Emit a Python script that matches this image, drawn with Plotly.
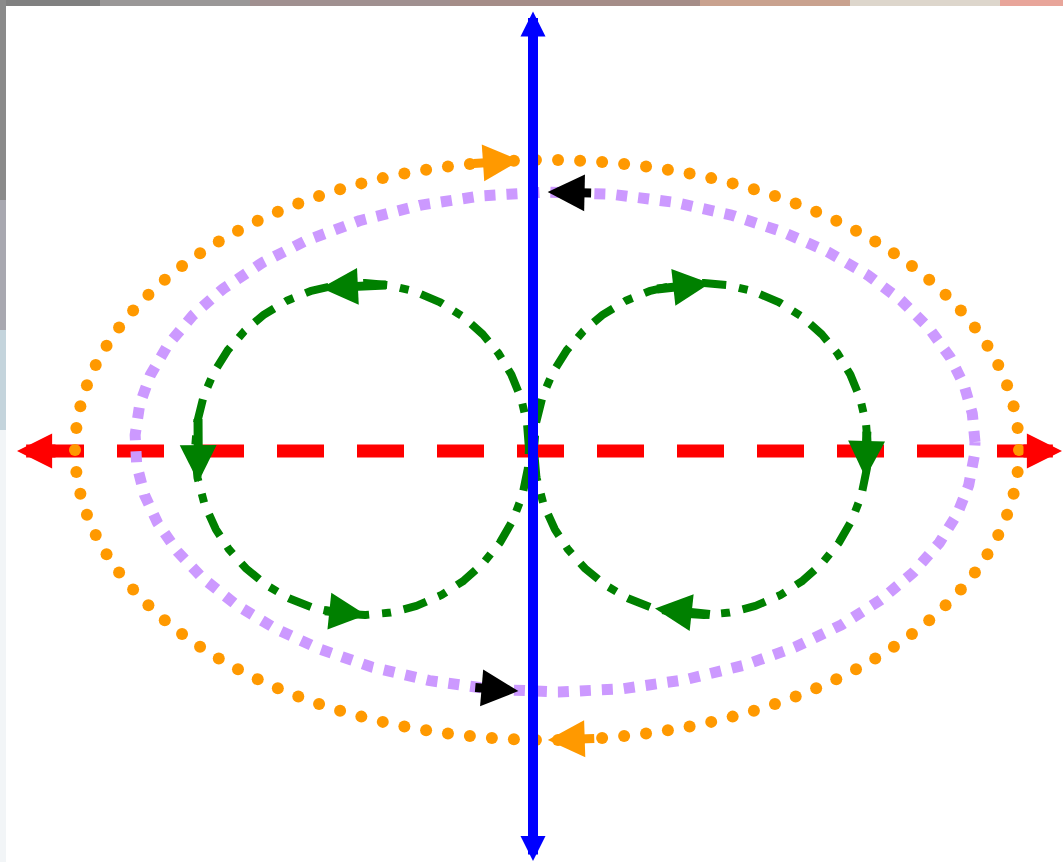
import numpy as np
import plotly.graph_objects as go

W, H = 1063, 862

# ---- curve definitions (pixel space) ----
curve_names = ["orange", "purple", "green_left", "green_right"]
center_x = [547, 555, 362, 701]
center_y = [450, 442, 449, 449]
radius_x = [472, 420, 167, 167]
radius_y = [290, 250, 166, 166]

# ---- straight axes ----
h_axis_y = 451
h_axis_x0, h_axis_x1 = 17, 1062
v_axis_x = 533
v_axis_y0, v_axis_y1 = 10, 861

# ---- direction arrows on curves: curve, tip angle (deg), sense (+1 ccw, -1 cw), length ----
arrow_curve = ["orange", "orange", "purple", "purple",
               "green_left", "green_left", "green_left",
               "green_right", "green_right", "green_right"]
arrow_angle = [93.3, 270.1, 91.0, 265.0, 104.2, 191.5, 271.4, 86.9, 350.0, 254.0]
arrow_sense = [-1, -1, 1, 1, 1, 1, 1, -1, -1, -1]
arrow_length = [48, 48, 45, 45, 67, 65, 43, 55, 48, 57]

colors = {"orange": "#FF9900", "purple": "#CC99FF", "green_left": "#008000",
          "green_right": "#008000", "red": "#FF0000", "blue": "#0000FF"}
arrow_colors = {"orange": "#FF9900", "purple": "#000000",
                "green_left": "#008000", "green_right": "#008000"}


def curve(i, t):
    return (center_x[i] + radius_x[i] * np.cos(t), center_y[i] - radius_y[i] * np.sin(t))


fig = go.Figure()

# red dashed horizontal line
fig.add_trace(go.Scatter(x=[37, 1044], y=[h_axis_y, h_axis_y], mode="lines",
                         line=dict(color=colors["red"], width=13, dash="47px,33px"),
                         hoverinfo="skip"))

tt = np.linspace(0, 2 * np.pi, 2000)
for name in ["green_left", "green_right"]:
    i = curve_names.index(name)
    x, y = curve(i, tt)
    fig.add_trace(go.Scatter(x=x, y=y, mode="lines",
                             line=dict(color=colors[name], width=8, dash="24px,13px,9px,13px"),
                             hoverinfo="skip"))

# purple square-dotted ellipse
i = curve_names.index("purple")
x, y = curve(i, tt)
fig.add_trace(go.Scatter(x=x, y=y, mode="lines",
                         line=dict(color=colors["purple"], width=11, dash="11px,11px"),
                         hoverinfo="skip"))

# orange round-dotted ellipse (dots at equal arc length)
i = curve_names.index("orange")
x, y = curve(i, tt)
seg = np.hypot(np.diff(x), np.diff(y))
cum = np.concatenate([[0], np.cumsum(seg)])
n = int(round(cum[-1] / 22))
targets = np.linspace(0, cum[-1], n, endpoint=False)
dx = np.interp(targets, cum, x)
dy = np.interp(targets, cum, y)
fig.add_trace(go.Scatter(x=dx, y=dy, mode="markers",
                         marker=dict(color=colors["orange"], size=12, line=dict(width=0)),
                         hoverinfo="skip"))

ann = []


def arrow(x, y, ax, ay, color, width, size):
    ann.append(dict(x=x, y=y, ax=ax, ay=ay, xref="x", yref="y", axref="x", ayref="y",
                    text="", showarrow=True, arrowhead=2, arrowsize=size,
                    arrowwidth=width, arrowcolor=color, standoff=0, startstandoff=0))


# red arrowheads
arrow(h_axis_x0, h_axis_y, h_axis_x0 + 40, h_axis_y, colors["red"], 13, 0.54)
arrow(h_axis_x1, h_axis_y, h_axis_x1 - 40, h_axis_y, colors["red"], 13, 0.54)

# curve arrows
for c, ang, s, L in zip(arrow_curve, arrow_angle, arrow_sense, arrow_length):
    i = curve_names.index(c)
    t = np.deg2rad(ang)
    speed = np.hypot(radius_x[i] * np.sin(t), radius_y[i] * np.cos(t))
    t_tail = t - s * L / speed
    tx, ty = curve(i, t)
    bx, by = curve(i, t_tail)
    arrow(tx, ty, bx, by, arrow_colors[c], 9, 0.82)

# blue double-headed vertical axis (on top)
ann.append(dict(x=v_axis_x, y=v_axis_y1, ax=v_axis_x, ay=v_axis_y0,
                xref="x", yref="y", axref="x", ayref="y", text="", showarrow=True,
                arrowhead=2, startarrowhead=2, arrowside="end+start",
                arrowsize=0.5, startarrowsize=0.5, arrowwidth=10,
                arrowcolor=colors["blue"], standoff=0, startstandoff=0))

# blurry photo-like border strips
shapes = []
top_cols = [(0, 100, "#808080"), (100, 250, "#9a9898"), (250, 450, "#a09090"),
            (450, 700, "#a58d88"), (700, 850, "#c9a28f"), (850, 1000, "#ddd6cc"),
            (1000, 1063, "#e8a59a")]
for a, b, col in top_cols:
    shapes.append(dict(type="rect", xref="x", yref="y", x0=a, x1=b, y0=0, y1=6,
                       fillcolor=col, line=dict(width=0), layer="below"))
left_cols = [(0, 200, "#8a8a8a"), (200, 330, "#a8a8b0"), (330, 430, "#c4d4dc"),
             (430, 862, "#f2f5f7")]
for a, b, col in left_cols:
    shapes.append(dict(type="rect", xref="x", yref="y", x0=0, x1=6, y0=a, y1=b,
                       fillcolor=col, line=dict(width=0), layer="below"))

fig.update_layout(
    width=W, height=H, margin=dict(l=0, r=0, t=0, b=0),
    paper_bgcolor="white", plot_bgcolor="white", showlegend=False,
    xaxis=dict(range=[0, W], visible=False, fixedrange=True),
    yaxis=dict(range=[H, 0], visible=False, fixedrange=True),
    annotations=ann, shapes=shapes,
)

fig.write_html("out.html", config={"displayModeBar": False},
               post_script="document.body.style.margin='0px';document.body.style.overflow='hidden';")
